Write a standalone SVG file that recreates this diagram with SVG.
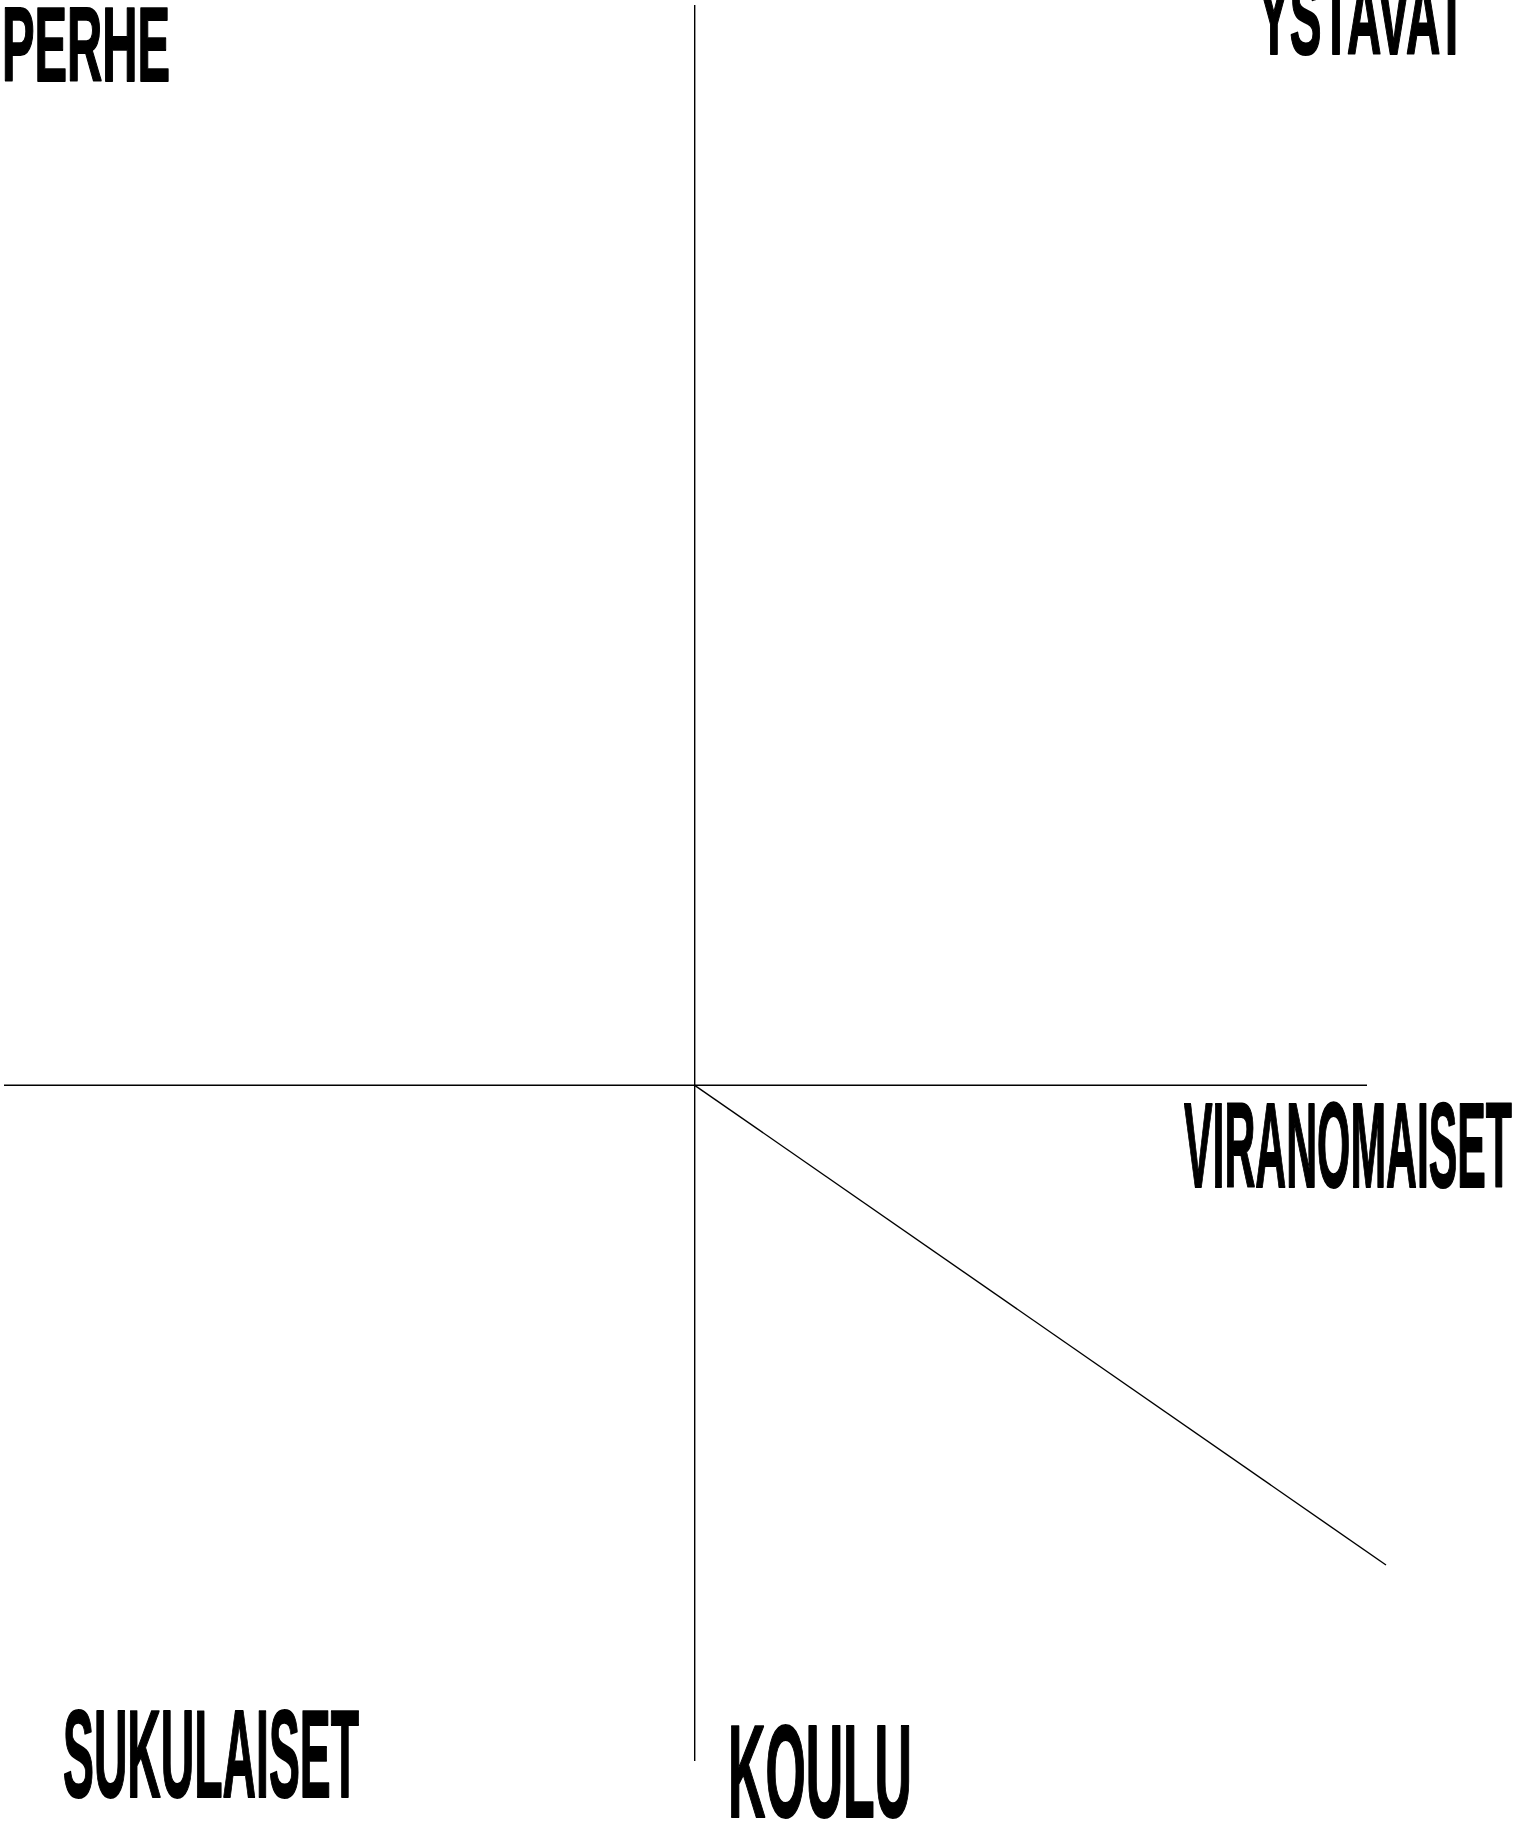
<svg xmlns="http://www.w3.org/2000/svg" width="1523" height="1824" viewBox="0 0 1523 1824">
<style>
.lbl{font-family:"Liberation Sans","DejaVu Sans",sans-serif;font-weight:bold;fill:#000;stroke:#000;stroke-width:2;stroke-linejoin:round}
.ln{stroke:#000;stroke-width:1.4;fill:none}
</style>
<rect width="1523" height="1824" fill="#fff"/>
<g id="connectors">
<line class="ln" x1="694.7" y1="5" x2="694.7" y2="1761"/>
<line class="ln" x1="4" y1="1085.3" x2="1367" y2="1085.3"/>
<line class="ln" x1="694.7" y1="1085.3" x2="1386" y2="1565"/>
</g>
<g id="perhe"><text class="lbl" x="2" y="81" font-size="105" textLength="168" lengthAdjust="spacingAndGlyphs">PERHE</text></g>
<g id="ystavat"><text class="lbl" x="1258" y="54" font-size="105" textLength="208" lengthAdjust="spacingAndGlyphs">YSTAVAT</text></g>
<g id="viranomaiset"><text class="lbl" x="1184" y="1187" font-size="121" textLength="328" lengthAdjust="spacingAndGlyphs">VIRANOMAISET</text></g>
<g id="sukulaiset"><text class="lbl" x="63" y="1797" font-size="124" textLength="296" lengthAdjust="spacingAndGlyphs">SUKULAISET</text></g>
<g id="koulu"><text class="lbl" x="728" y="1817" font-size="131" textLength="184" lengthAdjust="spacingAndGlyphs">KOULU</text></g>
</svg>
